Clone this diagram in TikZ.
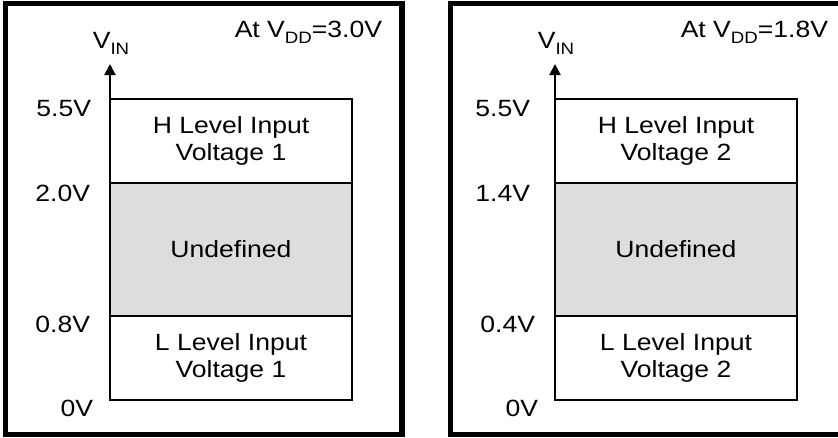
\documentclass[tikz,border=0pt]{standalone}
\usepackage{fontspec}
\setmainfont{Liberation Sans}[FakeStretch=1.13]
\usetikzlibrary{arrows.meta}
\newcommand{\mysub}[1]{\raisebox{-6.5pt}{\fontsize{16.5}{16.5}\selectfont #1}}
\begin{document}
\begin{tikzpicture}[x=1pt,y=-1pt,
  every node/.style={font=\fontsize{23.5}{27}\selectfont, inner sep=0pt, outer sep=0pt},
  frame/.style={draw=black, line width=5.5pt},
  zone/.style={draw=black, line width=2pt, minimum width=242pt, align=center, anchor=north west},
  undef/.style={zone, fill=gray!27},
  axisline/.style={draw=black, line width=2pt, -{Triangle[width=11pt,length=11pt]}},
  lvl/.style={anchor=base east}]
\useasboundingbox (0,0) rectangle (838,437);
\clip (0,0) rectangle (838,437);
% frames
\draw[frame] (5.5,3.5) rectangle (402,434.5);
\draw[frame] (450.5,3.5) rectangle (870,434.5);
% ---------- left panel ----------
\node[zone, minimum height=84pt] (h1) at (110,99) {H Level Input\\Voltage 1};
\node[undef, minimum height=133pt] (u1) at (110,183) {Undefined};
\node[zone, minimum height=84pt] (l1) at (110,316) {L Level Input\\Voltage 1};
\coordinate (t1) at (110,64);
\draw[axisline] (l1.south west) -- (t1);
\node[anchor=base] (vin1) at (111,48) {V\mysub{IN}};
\node[anchor=base east] (vdd1) at (382,37) {At V\mysub{DD}=3.0V};
\node[lvl] (a1) at (91,116) {5.5V};
\node[lvl] (b1) at (90,201.5) {2.0V};
\node[lvl] (c1) at (90,332) {0.8V};
\node[lvl] (d1) at (93,416) {0V};
% ---------- right panel ----------
\node[zone, minimum height=84pt] (h2) at (555,99) {H Level Input\\Voltage 2};
\node[undef, minimum height=133pt] (u2) at (555,183) {Undefined};
\node[zone, minimum height=84pt] (l2) at (555,316) {L Level Input\\Voltage 2};
\coordinate (t2) at (555,64);
\draw[axisline] (l2.south west) -- (t2);
\node[anchor=base] (vin2) at (556,48) {V\mysub{IN}};
\node[anchor=base east] (vdd2) at (828,37) {At V\mysub{DD}=1.8V};
\node[lvl] (a2) at (530,116) {5.5V};
\node[lvl] (b2) at (530,201.5) {1.4V};
\node[lvl] (c2) at (535,332) {0.4V};
\node[lvl] (d2) at (538,416) {0V};
\end{tikzpicture}
\end{document}
